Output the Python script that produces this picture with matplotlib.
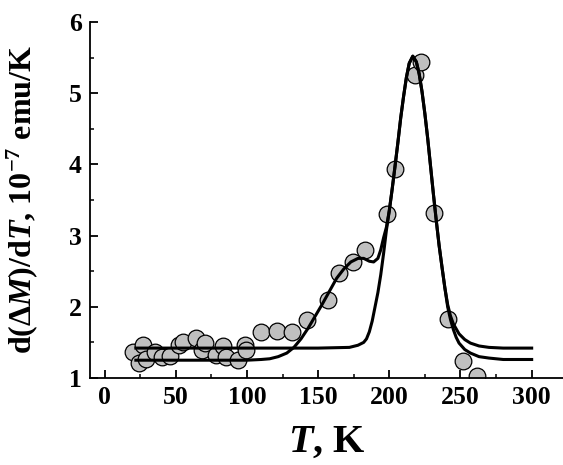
import matplotlib
matplotlib.use("Agg")
import matplotlib.pyplot as plt
from matplotlib.ticker import MultipleLocator

# ---- data ----
t_points = [20.2, 27.2, 24.0, 29.0, 35.5, 40.2, 46.0, 52.0, 55.3, 64.0, 68.8, 70.6,
            78.0, 83.0, 85.0, 94.0, 98.5, 99.6, 109.7, 121.4, 131.5, 142.4,
            157.2, 165.0, 174.7, 183.0, 198.6, 204.0, 218.0, 222.0, 231.6,
            241.4, 251.5, 261.8]
v_points = [1.37, 1.46, 1.21, 1.26, 1.36, 1.30, 1.31, 1.46, 1.50, 1.56, 1.39, 1.49,
            1.32, 1.45, 1.30, 1.25, 1.46, 1.39, 1.65, 1.66, 1.64, 1.81,
            2.10, 2.48, 2.63, 2.80, 3.31, 3.93, 5.26, 5.44, 3.32,
            1.83, 1.24, 1.03]

# single-peak fit curve
t_fit1 = [22, 60, 100, 150, 172, 178, 182, 184, 186, 188, 190, 192, 194, 196, 198,
          200, 202, 204, 206, 208, 210, 212, 214, 216.5, 219, 221, 223, 225, 227,
          229, 231, 233, 235, 237, 239, 241, 243, 245, 249, 253, 257, 263, 270, 280, 300]
v_fit1 = [1.42, 1.42, 1.42, 1.42, 1.43, 1.46, 1.50, 1.55, 1.65, 1.80, 2.00, 2.20, 2.45, 2.75, 3.08,
          3.35, 3.65, 3.97, 4.30, 4.65, 4.95, 5.22, 5.42, 5.52, 5.44, 5.27, 5.02, 4.71, 4.36,
          3.97, 3.58, 3.21, 2.86, 2.56, 2.27, 2.03, 1.87, 1.76, 1.62, 1.54, 1.49, 1.45, 1.43, 1.42, 1.42]

# two-peak fit curve
t_fit2 = [22, 60, 100, 110, 116, 122, 128, 133, 138, 143, 148, 153, 158, 163, 168, 173,
          178, 182, 186, 189, 192, 194, 196, 198, 200, 202, 204, 206, 208, 210, 212, 214,
          216.5, 219, 221, 223, 225, 227, 229, 231, 233, 235, 237, 239, 241, 243, 245, 247,
          249, 253, 257, 263, 270, 280, 300]
v_fit2 = [1.25, 1.25, 1.25, 1.26, 1.27, 1.30, 1.35, 1.43, 1.55, 1.70, 1.87, 2.04, 2.22, 2.40, 2.53, 2.63,
          2.68, 2.68, 2.64, 2.63, 2.68, 2.80, 2.97, 3.12, 3.35, 3.65, 3.97, 4.30, 4.65, 4.95, 5.22, 5.42,
          5.52, 5.44, 5.27, 5.02, 4.71, 4.36, 3.97, 3.58, 3.21, 2.86, 2.56, 2.27, 2.00, 1.82, 1.68, 1.57,
          1.49, 1.40, 1.35, 1.30, 1.28, 1.26, 1.26]

x_ticks = [0, 50, 100, 150, 200, 250, 300]
y_ticks = [1, 2, 3, 4, 5, 6]

# ---- styling ----
plt.rcParams['font.family'] = ['Liberation Serif', 'DejaVu Serif']
plt.rcParams['font.weight'] = 'bold'
plt.rcParams['mathtext.fontset'] = 'custom'
plt.rcParams['mathtext.rm'] = 'Liberation Serif:bold'
plt.rcParams['mathtext.it'] = 'Liberation Serif:italic:bold'
plt.rcParams['mathtext.bf'] = 'Liberation Serif:bold'

fig = plt.figure(figsize=(5.63, 4.65), dpi=100)
ax = fig.add_axes([90 / 563, 87 / 465, 1 - 90 / 563, (378 - 22) / 465])

ax.plot(t_points, v_points, 'o', ms=12, mfc='#c0c0c0', mec='black', mew=0.9, zorder=2)
ax.plot(t_fit1, v_fit1, '-', color='black', lw=2.2, zorder=3)
ax.plot(t_fit2, v_fit2, '-', color='black', lw=2.2, zorder=3)

ax.set_xlim(-10.2, 322)
ax.set_ylim(1, 6)
ax.set_xticks(x_ticks)
ax.set_yticks(y_ticks)
ax.xaxis.set_minor_locator(MultipleLocator(25))
ax.yaxis.set_minor_locator(MultipleLocator(0.5))

for s in ['top', 'right']:
    ax.spines[s].set_visible(False)
for s in ['left', 'bottom']:
    ax.spines[s].set_linewidth(1.3)

ax.tick_params(which='major', direction='in', length=5.5, width=1.3, labelsize=18.5, pad=6)
ax.tick_params(which='minor', direction='in', length=3, width=1.1)
for lab in ax.get_xticklabels() + ax.get_yticklabels():
    lab.set_fontweight('bold')

ax.set_xlabel(r'$\mathit{T}$, K', fontsize=29, fontweight='bold')
ax.set_ylabel(r'd($\mathit{\Delta M}$)/d$\mathit{T}$, 10$^{-7}$ emu/K', fontsize=23,
              fontweight='bold')
ax.xaxis.set_label_coords(0.5, -0.13)
ax.yaxis.set_label_coords(-0.105, 0.5)

fig.savefig('out.png', dpi=100)
